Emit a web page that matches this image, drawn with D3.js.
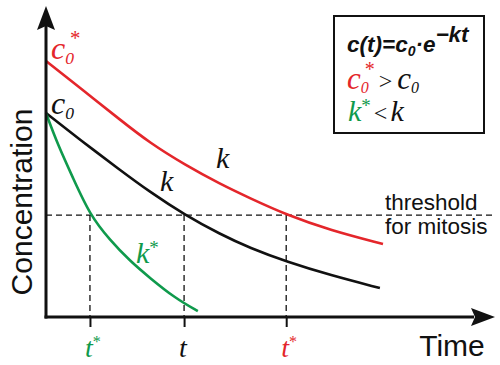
<!DOCTYPE html>
<html><head><meta charset="utf-8">
<script src="https://cdn.jsdelivr.net/npm/d3@7"></script>
<style>body{margin:0;background:#fff}svg{display:block}</style>
</head><body>
<svg id="chart" width="500" height="365"></svg>
<script>
// Data (time, concentration in arbitrary units)
const redT   = [0, 0.77, 1.67, 2.34, 3.13, 3.92, 4.59, 5.43, 6.40, 7.59];
const redC   = [8.31, 7.44, 6.40, 5.65, 4.94, 4.32, 3.86, 3.31, 2.82, 2.37];
const blackT = [0, 0.77, 1.67, 2.34, 3.13, 3.92, 4.59, 5.43, 6.40, 7.52];
const blackC = [6.62, 5.75, 4.77, 4.06, 3.31, 2.69, 2.24, 1.79, 1.36, 0.94];
const greenT = [0, 0.27, 0.61, 0.99, 1.44, 1.89, 2.34, 2.90, 3.42];
const greenC = [6.62, 5.58, 4.51, 3.31, 2.50, 1.82, 1.27, 0.62, 0.19];
const threshold = 3.31;
const crossT = [0.99, 3.11, 5.41];
const crossLabels = ["t", "t", "t"];
const crossStars = ["*", "", "*"];

const RED = "#e4262b", GREEN = "#0f9a4c", BLACK = "#111";

const svg = d3.select("#chart");
const x = d3.scaleLinear().domain([0, 10]).range([46, 490]);
const y = d3.scaleLinear().domain([0, 10]).range([317, 9]);

const serif = "'Liberation Serif','Times New Roman',serif";
const sans = "'Liberation Sans',Arial,sans-serif";

// threshold dashed line
svg.append("line").attr("x1", x(0)).attr("x2", 493).attr("y1", y(threshold)).attr("y2", y(threshold))
  .attr("stroke", BLACK).attr("stroke-width", 1.3).attr("stroke-dasharray", "6,4");
// vertical dashed lines
crossT.forEach(t => {
  svg.append("line").attr("x1", x(t)).attr("x2", x(t)).attr("y1", y(threshold)).attr("y2", y(0))
    .attr("stroke", BLACK).attr("stroke-width", 1.3).attr("stroke-dasharray", "6,4");
});

// axis ticks below x axis
const ax = d3.axisBottom(x).tickValues(crossT).tickFormat("").tickSize(10).tickSizeOuter(0);
const axG = svg.append("g").attr("transform", `translate(0,${y(0)})`).call(ax);
axG.select(".domain").remove();
axG.selectAll(".tick line").attr("stroke", BLACK).attr("stroke-width", 2);

// curves
const line = d3.line().x(d => x(d[0])).y(d => y(d[1])).curve(d3.curveBasis);
const curves = [[redT, redC, RED], [blackT, blackC, BLACK], [greenT, greenC, GREEN]];
curves.forEach(([ts, cs, col]) => {
  svg.append("path").datum(ts.map((t, i) => [t, cs[i]])).attr("d", line)
    .attr("fill", "none").attr("stroke", col).attr("stroke-width", 2.6);
});

// axes lines with arrows
svg.append("line").attr("x1", x(0)).attr("x2", x(0)).attr("y1", y(0) + 1.5).attr("y2", 26)
  .attr("stroke", BLACK).attr("stroke-width", 3);
svg.append("line").attr("x1", x(0) - 1.5).attr("x2", 474).attr("y1", y(0)).attr("y2", y(0))
  .attr("stroke", BLACK).attr("stroke-width", 3);
svg.append("path").attr("d", `M${x(0)},6 L${x(0) + 9},30 L${x(0)},26 L${x(0) - 9},30 Z`).attr("fill", BLACK);
svg.append("path").attr("d", `M495,${y(0)} L471,${y(0) - 9} L475,${y(0)} L471,${y(0) + 9} Z`).attr("fill", BLACK);

// axis titles
svg.append("text").attr("transform", "translate(32,202) rotate(-90)").attr("text-anchor", "middle")
  .attr("font-family", sans).attr("font-size", 30).attr("fill", BLACK).text("Concentration");
svg.append("text").attr("x", 452).attr("y", 356).attr("text-anchor", "middle")
  .attr("font-family", sans).attr("font-size", 30).attr("fill", BLACK).text("Time");

// threshold text
svg.append("text").attr("x", 385).attr("y", 210).attr("font-family", sans).attr("font-size", 22.5)
  .attr("fill", BLACK).text("threshold");
svg.append("text").attr("x", 385).attr("y", 234).attr("font-family", sans).attr("font-size", 22.5)
  .attr("fill", BLACK).text("for mitosis");

// helper for c0 labels
function cLabel(g, xx, yy, col, star, size) {
  const t = g.append("text").attr("x", xx).attr("y", yy).attr("font-family", serif)
    .attr("font-style", "italic").attr("font-size", size).attr("fill", col);
  t.append("tspan").text("c");
  t.append("tspan").attr("font-size", size * 0.55).attr("dy", 5).text("0");
  if (star) t.append("tspan").attr("font-size", size * 0.65).attr("dx", -4).attr("dy", -19).attr("font-style", "normal").text("*");
  return t;
}
cLabel(svg, 51, 59, RED, true, 32);
cLabel(svg, 51, 114, BLACK, false, 32);

// k labels
function kLabel(xx, yy, col, star) {
  const t = svg.append("text").attr("x", xx).attr("y", yy).attr("font-family", serif)
    .attr("font-style", "italic").attr("font-size", 30).attr("fill", col);
  t.append("tspan").text("k");
  if (star) t.append("tspan").attr("font-size", 19).attr("dy", -9).attr("font-style", "normal").text("*");
}
kLabel(216, 168, BLACK, false);
kLabel(160, 191, BLACK, false);
kLabel(136, 263, GREEN, true);

// bottom t labels
const tColors = [GREEN, BLACK, RED];
crossT.forEach((t, i) => {
  const tx = svg.append("text").attr("x", x(t) - 5).attr("y", 357).attr("font-family", serif)
    .attr("font-style", "italic").attr("font-size", 28).attr("fill", tColors[i]);
  tx.append("tspan").text(crossLabels[i]);
  if (crossStars[i]) tx.append("tspan").attr("font-size", 16).attr("dy", -10).attr("font-style", "normal").text(crossStars[i]);
});

// legend box
svg.append("rect").attr("x", 334).attr("y", 16).attr("width", 150).attr("height", 117)
  .attr("fill", "#fff").attr("stroke", BLACK).attr("stroke-width", 2);
const f = svg.append("text").attr("x", 347).attr("y", 52).attr("font-family", sans)
  .attr("font-weight", "bold").attr("font-style", "italic").attr("font-size", 22.5).attr("fill", BLACK);
f.append("tspan").text("c(t)=c");
f.append("tspan").attr("font-size", 14).attr("dy", 4).text("0");
f.append("tspan").attr("dy", -4).text("·e");
f.append("tspan").attr("dy", -10).text("−kt");

const l2 = svg.append("text").attr("x", 347).attr("y", 89).attr("font-family", serif).attr("font-size", 31);
l2.append("tspan").attr("fill", RED).attr("font-style", "italic").text("c");
l2.append("tspan").attr("fill", RED).attr("font-style", "italic").attr("font-size", 16).attr("dy", 4).text("0");
l2.append("tspan").attr("fill", RED).attr("font-size", 20).attr("dx", -4).attr("dy", -17).text("*");
l2.append("tspan").attr("fill", BLACK).attr("font-size", 24).attr("dy", 13).attr("dx", 4).text(">");
l2.append("tspan").attr("fill", BLACK).attr("font-style", "italic").attr("dx", 5).text("c");
l2.append("tspan").attr("fill", BLACK).attr("font-style", "italic").attr("font-size", 16).attr("dy", 4).text("0");

const l3 = svg.append("text").attr("x", 348).attr("y", 121).attr("font-family", serif).attr("font-size", 30);
l3.append("tspan").attr("fill", GREEN).attr("font-style", "italic").text("k");
l3.append("tspan").attr("fill", GREEN).attr("font-size", 19).attr("dy", -9).text("*");
l3.append("tspan").attr("fill", BLACK).attr("font-size", 24).attr("dy", 9).attr("dx", 3).text("<");
l3.append("tspan").attr("fill", BLACK).attr("font-style", "italic").attr("dx", 3).text("k");
</script>
</body></html>
